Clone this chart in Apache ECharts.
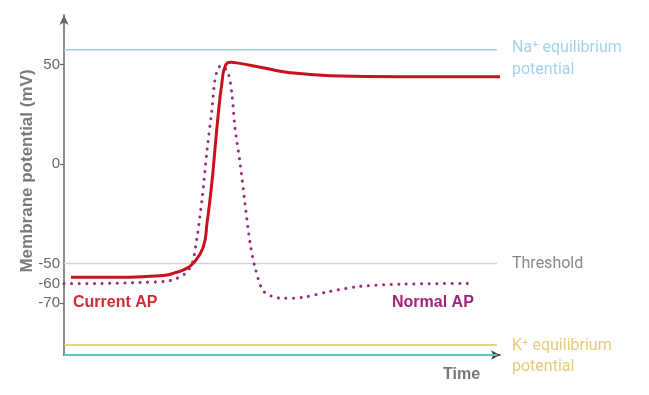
<!DOCTYPE html>
<html>
<head>
<meta charset="utf-8">
<script src="https://cdn.jsdelivr.net/npm/echarts@6/dist/echarts.min.js"></script>
<style>
html,body{margin:0;padding:0;background:#fff;}
#c{width:649px;height:395px;}
</style>
</head>
<body>
<div id="c"></div>
<script>
// Time (ms, arbitrary units) and membrane potential (mV)
var currentT = [0.16, 0.83, 1.51, 1.97, 2.32, 2.55, 2.78, 2.96, 3.19, 3.28, 3.39, 3.46, 3.53, 3.62, 3.70, 3.82, 4.00, 4.56, 5.18, 6.10, 7.71, 10.0];
var currentV = [-56.9, -56.9, -56.9, -56.4, -55.9, -54.6, -52.8, -49.9, -41.9, -29.8, -9.7, 6.8, 23.4, 40.5, 49.5, 51.2, 50.8, 48.5, 46.0, 44.5, 44.0, 44.0];
var normalT = [0, 0.83, 1.74, 2.32, 2.55, 2.78, 2.94, 3.05, 3.17, 3.28, 3.39, 3.46, 3.53, 3.60, 3.76, 3.85, 3.92, 4.04, 4.15, 4.27, 4.38, 4.56, 4.77, 5.02, 5.48, 6.10, 6.79, 7.71, 9.38];
var normalV = [-60, -60, -59.5, -59, -57.8, -55, -50, -37, -17, 6.8, 26.9, 42, 48, 49.5, 46, 35.4, 18.4, 0.3, -19.8, -39.9, -51.9, -63.5, -66.5, -67.5, -67, -64, -61.5, -60.4, -60];
var naEquilibrium = 57.5;
var threshold = -50;
var kEquilibrium = -91;
var refEnd = 9.93;
var yTickLabels = [50, 0, -50, -60, -70];
var yTickMarks = [50, 0, -70];

function pairs(t, v) { return t.map(function (x, i) { return [x, v[i]]; }); }
function hline(v) { return [[0, v], [refEnd, v]]; }

var chart = echarts.init(document.getElementById('c'), null, {renderer: 'canvas'});
var font = '"Liberation Sans", Arial, sans-serif';
chart.setOption({
  animation: false,
  backgroundColor: '#fff',
  grid: {left: 64, right: 149, top: 15, bottom: 40},
  xAxis: {
    type: 'value', min: 0, max: 10,
    axisLine: {show: true, onZero: false, symbol: ['none', 'arrow'], symbolSize: [7, 9], lineStyle: {color: '#444', width: 1.5}},
    axisTick: {show: false}, axisLabel: {show: false}, splitLine: {show: false}
  },
  yAxis: {
    type: 'value', min: -96, max: 75,
    axisLine: {show: true, onZero: false, symbol: ['none', 'arrow'], symbolSize: [7, 10], lineStyle: {color: '#666', width: 1.5}},
    axisTick: {show: true, customValues: yTickMarks, length: 4, lineStyle: {color: '#666', width: 1.2}},
    axisLabel: {customValues: yTickLabels, color: '#666', fontSize: 15, fontFamily: font, margin: 4},
    splitLine: {show: false}
  },
  series: [
    {type: 'line', data: hline(naEquilibrium), symbol: 'none', lineStyle: {color: '#9dcfe6', width: 1.5}, silent: true},
    {type: 'line', data: hline(threshold), symbol: 'none', lineStyle: {color: '#d3d3d3', width: 1.5}, silent: true},
    {type: 'line', data: hline(kEquilibrium), symbol: 'none', lineStyle: {color: '#e2c46a', width: 1.5}, silent: true},
    {type: 'line', data: hline(-96), symbol: 'none', lineStyle: {color: '#5fc6b6', width: 2}, silent: true, z: 3},
    {type: 'line', name: 'Normal AP', data: pairs(normalT, normalV), symbol: 'none', smooth: 0.3,
      lineStyle: {color: '#9b2a80', width: 3, type: [0.1, 7.5], cap: 'round'}, z: 4},
    {type: 'line', name: 'Current AP', data: pairs(currentT, currentV), symbol: 'none', smooth: 0.5,
      lineStyle: {color: '#c8101e', width: 3}, z: 5}
  ],
  graphic: [
    {type: 'text', x: 27, y: 171, rotation: Math.PI / 2, style: {text: 'Membrane potential (mV)', font: 'bold 17px ' + font, fill: '#7a7a7a', align: 'center', verticalAlign: 'middle'}},
    {type: 'text', x: 512, y: 37, style: {text: 'Na\u207A equilibrium\npotential', font: '16px Roboto, sans-serif', fill: '#a5d2ea', lineHeight: 22}},
    {type: 'text', x: 512, y: 264, style: {text: 'Threshold', font: '16px Roboto, sans-serif', fill: '#888', verticalAlign: 'middle'}},
    {type: 'text', x: 512, y: 335, style: {text: 'K\u207A equilibrium\npotential', font: '16px Roboto, sans-serif', fill: '#e5cb7c', lineHeight: 21}},
    {type: 'text', x: 443, y: 375, style: {text: 'Time', font: 'bold 16px ' + font, fill: '#777', verticalAlign: 'middle'}},
    {type: 'text', x: 73, y: 303, style: {text: 'Current AP', font: 'bold 16px ' + font, fill: '#d12a3a', verticalAlign: 'middle'}},
    {type: 'text', x: 392, y: 303, style: {text: 'Normal AP', font: 'bold 16px ' + font, fill: '#a3227c', verticalAlign: 'middle'}}
  ]
});
</script>
</body>
</html>
